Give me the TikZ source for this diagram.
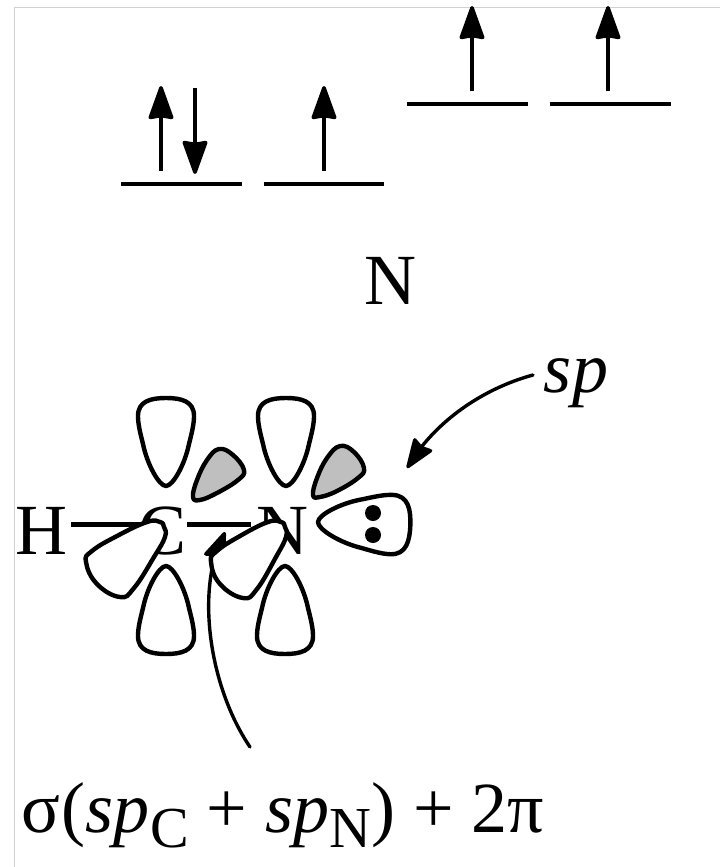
\documentclass[tikz,border=0pt]{standalone}
\usepackage{fontspec}
\setmainfont{Liberation Serif}
\usetikzlibrary{arrows.meta,bending}
\newcommand{\bigfont}{\fontsize{72}{72}\selectfont}
\newcommand{\subtext}[1]{\lower15pt\hbox{\fontsize{58}{58}\selectfont #1}}
\tikzset{
  x=1pt,y=-1pt,
  frameline/.style={draw=black!18,line width=1pt},
  level/.style={line width=4.2pt},
  spin/.style={line width=3.6pt,-{Stealth[length=37pt,width=26pt,inset=2pt,round]}},
  curvedarrow/.style={line width=3.4pt,line cap=round,-{Stealth[length=33pt,width=24pt,inset=3pt,round,flex]}},
  bond/.style={line width=5pt},
  orbital/.style={draw=black,line width=4.4pt,line join=round},
  label/.style={font=\bigfont,inner sep=0pt,anchor=base},
  pics/lobe/.style={code={
    \path[orbital,fill=white] (0,0) .. controls (-7,0) and (-19,-22) .. (-23,-42)
      .. controls (-26,-54) and (-28,-62) .. (-28,-70)
      .. controls (-28,-85) and (-15,-88) .. (0,-88)
      .. controls (15,-88) and (28,-85) .. (28,-70)
      .. controls (28,-62) and (26,-54) .. (23,-42)
      .. controls (19,-22) and (7,0) .. (0,0) -- cycle;
  }}
}
\begin{document}
\begin{tikzpicture}
\useasboundingbox (0,0) rectangle (720,867);
\fill[white] (0,0) rectangle (720,867);
\coordinate (fa) at (14.5,867);
\coordinate (fb) at (14.5,7.5);
\coordinate (fc) at (720,7.5);
\draw[frameline] (fa) -- (fb) -- (fc);

% energy levels
\foreach \n/\xa/\xb/\yy in {a/121/242/184,b/263.5/384/184,c/407/528/104,d/549.5/671/104}{
  \coordinate (l\n w) at (\xa,\yy);
  \coordinate (l\n e) at (\xb,\yy);
  \draw[level] (l\n w) -- (l\n e);
}
% spins
\foreach \n/\xx/\ya/\yb in {s1/161/171/86,s2/195/88/174,s3/324/171/86,s4/472/91/6,s5/608/91/6}{
  \coordinate (\n a) at (\xx,\ya);
  \coordinate (\n b) at (\xx,\yb);
  \draw[spin] (\n a) -- (\n b);
}
\node[label] (Ntop) at (390,304) {N};

% atoms
\node[label] (H) at (41,554) {H};
\node[label] (C) at (163,554) {C};
\node[label] (N) at (282,554) {N};
\coordinate (b1a) at (71,524);
\coordinate (b1b) at (140,524);
\coordinate (b2a) at (187,524);
\coordinate (b2b) at (251,524);
\draw[bond] (b1a) -- (b1b);
\draw[bond] (b2a) -- (b2b);

% sp arrow
\node[label,font=\bigfont\itshape] (sp) at (576,392) {sp};
\coordinate (sps) at (533,375);
\coordinate (spe) at (407,468);
\draw[curvedarrow] (sps) .. controls (485,388) and (435,420) .. (spe);

% sigma arrow
\coordinate (sgs) at (250,747);
\coordinate (sge) at (225,532);
\draw[curvedarrow] (sgs) .. controls (208,685) and (195,585) .. (sge);

% p lobes
\pic at (166,486) {lobe};
\pic at (286,486) {lobe};
\pic[rotate=180] at (166,566) {lobe};
\pic[rotate=180] at (285,566) {lobe};
\pic[rotate=-92,xscale=1.06,yscale=1.05] at (318,522) {lobe};

% shaded lobes
\path[orbital,fill=black!25] plot[smooth cycle,tension=0.7] coordinates
 {(193,497) (197,480) (207,460) (219,449) (233,455) (244,470) (238,480) (217,493) (200,500)};
\path[orbital,fill=black!25] plot[smooth cycle,tension=0.7] coordinates
 {(313,495) (317,478) (327,458) (340,446) (354,452) (364,468) (358,478) (337,491) (320,497)};

% front lobes
\path[orbital,fill=white] plot[smooth cycle,tension=0.75] coordinates
 {(164,527) (160,522) (147,522) (117,536) (92,551) (86,562) (97,584) (120,597) (134,588) (154,557) (165,537)};
\path[orbital,fill=white] plot[smooth cycle,tension=0.75] coordinates
 {(285,527) (281,522) (268,522) (240,536) (217,551) (211,562) (220,584) (243,598) (257,589) (276,557) (286,537)};

% lone pair
\node[fill=black,circle,minimum size=16pt,inner sep=0pt] (d1) at (373,513) {};
\node[fill=black,circle,minimum size=16pt,inner sep=0pt] (d2) at (373,535) {};

\node[font=\bigfont,inner sep=0pt,anchor=base west] (sigma) at (21,832)
  {σ\hspace{2pt}(\textit{sp}\subtext{C} + \textit{sp}\subtext{N}) + 2π};
\end{tikzpicture}
\end{document}
